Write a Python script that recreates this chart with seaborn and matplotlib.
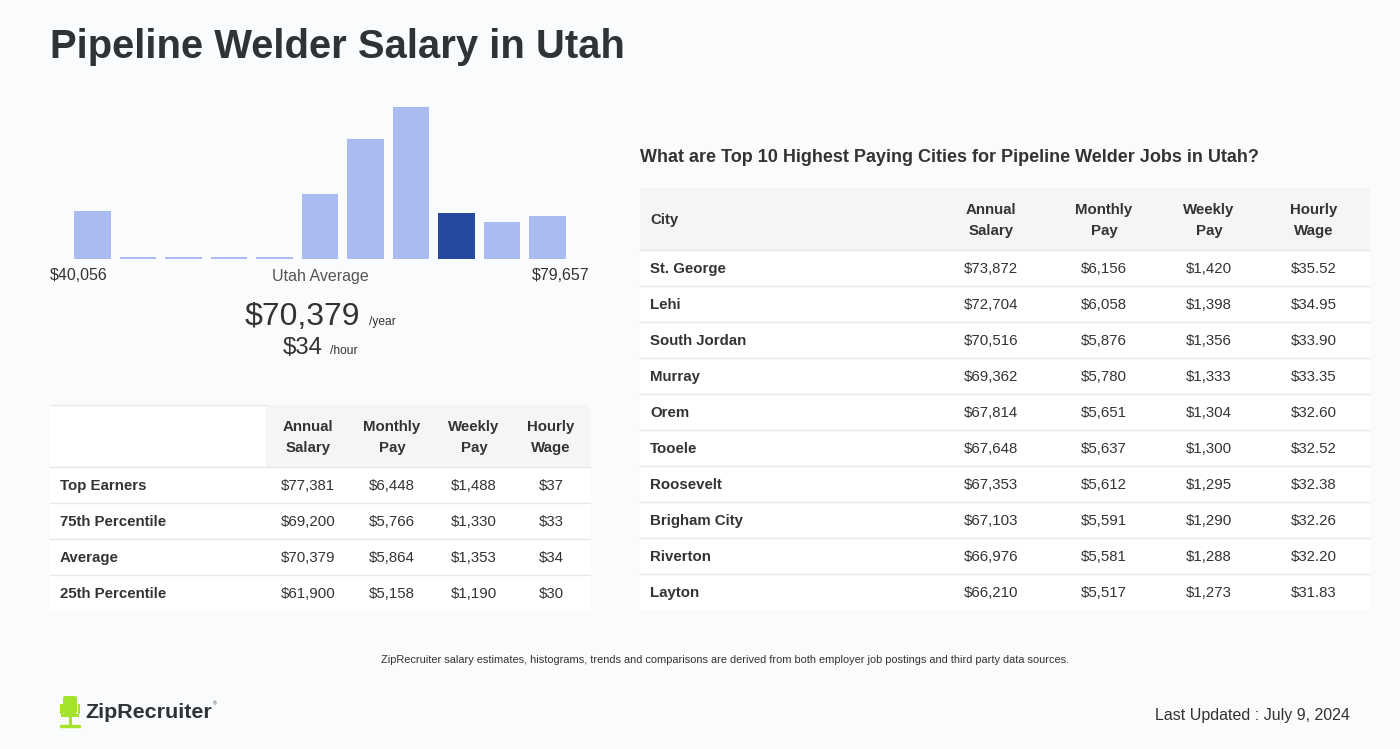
import matplotlib
matplotlib.use("Agg")
import matplotlib.pyplot as plt
from matplotlib.patches import Rectangle, FancyBboxPatch
import seaborn as sns
import pandas as pd

# ---------------- data ----------------
hist_bins = list(range(11))
hist_heights = [48, 2.3, 2.3, 2.3, 2.3, 65, 120, 152, 46, 37, 43]
hist_highlight = 8
hist_min_label = "$40,056"
hist_max_label = "$79,657"
avg_year = "$70,379"
avg_hour = "$34"

pct_rows = ["Top Earners", "75th Percentile", "Average", "25th Percentile"]
pct_annual = ["$77,381", "$69,200", "$70,379", "$61,900"]
pct_monthly = ["$6,448", "$5,766", "$5,864", "$5,158"]
pct_weekly = ["$1,488", "$1,330", "$1,353", "$1,190"]
pct_hourly = ["$37", "$33", "$34", "$30"]

cities = ["St. George", "Lehi", "South Jordan", "Murray", "Orem", "Tooele",
          "Roosevelt", "Brigham City", "Riverton", "Layton"]
city_annual = ["$73,872", "$72,704", "$70,516", "$69,362", "$67,814", "$67,648",
               "$67,353", "$67,103", "$66,976", "$66,210"]
city_monthly = ["$6,156", "$6,058", "$5,876", "$5,780", "$5,651", "$5,637",
                "$5,612", "$5,591", "$5,581", "$5,517"]
city_weekly = ["$1,420", "$1,398", "$1,356", "$1,333", "$1,304", "$1,300",
               "$1,295", "$1,290", "$1,288", "$1,273"]
city_hourly = ["$35.52", "$34.95", "$33.90", "$33.35", "$32.60", "$32.52",
               "$32.38", "$32.26", "$32.20", "$31.83"]

# ---------------- style ----------------
sns.set_theme(style="white")
plt.rcParams["font.family"] = ["Liberation Sans", "DejaVu Sans"]

W, H = 1400, 749
BG = "#F9FBFD"
DARK = "#2D3337"
TXT = "#333333"
LIGHT_BAR = "#A9BBF0"
DARK_BAR = "#264AA0"
HEAD_BG = "#F3F5F7"
LINE = "#E6E8EB"

def pt(px):
    return px * 0.72

fig = plt.figure(figsize=(W / 100, H / 100), dpi=100, facecolor=BG)

# overlay axes in pixel coordinates
ov = fig.add_axes([0, 0, 1, 1])
ov.set_xlim(0, W)
ov.set_ylim(H, 0)
ov.axis("off")
ov.set_facecolor(BG)

# title
ov.text(50, 58.5, "Pipeline Welder Salary in Utah", fontsize=pt(40), fontweight="bold",
        color=DARK, ha="left", va="baseline")

# ---------------- histogram ----------------
ax_l, ax_r, ax_top, ax_bot = 69.75, 570.25, 107, 259
hax = fig.add_axes([ax_l / W, 1 - ax_bot / H, (ax_r - ax_l) / W, (ax_bot - ax_top) / H])
df = pd.DataFrame({"bin": hist_bins, "h": hist_heights})
palette = [DARK_BAR if i == hist_highlight else LIGHT_BAR for i in hist_bins]
sns.barplot(data=df, x="bin", y="h", hue="bin", palette=palette, legend=False,
            width=0.81, ax=hax, saturation=1, edgecolor="none")
hax.set_xlim(-0.5, len(hist_bins) - 0.5)
hax.set_ylim(0, max(hist_heights))
hax.axis("off")

ov.text(50, 276, hist_min_label, fontsize=pt(16), color=TXT, ha="left", va="center")
ov.text(320, 276, "Utah Average", fontsize=pt(16), color="#555555", ha="center", va="center")
ov.text(590, 276, hist_max_label, fontsize=pt(16), color=TXT, ha="right", va="center")

ov.text(360, 325, avg_year, fontsize=pt(32), color=TXT, ha="right", va="baseline")
ov.text(369, 325, "/year", fontsize=pt(12), color=TXT, ha="left", va="baseline")
ov.text(323, 354.5, avg_hour, fontsize=pt(24), color=TXT, ha="right", va="baseline")
ov.text(330, 354, "/hour", fontsize=pt(12), color=TXT, ha="left", va="baseline")

# ---------------- left table ----------------
lt_x0, lt_x1 = 50, 590
lt_head_top, lt_head_bot = 405, 467
row_h = 36
HEAD_LS = 1.7
ov.add_patch(Rectangle((lt_x0, lt_head_top), 266 - lt_x0, lt_head_bot - lt_head_top,
                       facecolor="white", edgecolor="none"))
ov.add_patch(Rectangle((266, lt_head_top), lt_x1 - 266, lt_head_bot - lt_head_top,
                       facecolor=HEAD_BG, edgecolor="none"))
ov.plot([lt_x0, 266], [lt_head_top, lt_head_top], color=LINE, lw=1)
lt_cols = [308, 392, 474, 551]
lt_heads = ["Annual\nSalary", "Monthly\nPay", "Weekly\nPay", "Hourly\nWage"]
for cx, hd in zip(lt_cols, lt_heads):
    ov.text(cx, (lt_head_top + lt_head_bot) / 2 + 1.5, hd, fontsize=pt(15), fontweight="bold",
            color=TXT, ha="center", va="center", linespacing=HEAD_LS)
lt_vals = [pct_annual, pct_monthly, pct_weekly, pct_hourly]
for i, name in enumerate(pct_rows):
    y0 = lt_head_bot + i * row_h
    ov.add_patch(Rectangle((lt_x0, y0), lt_x1 - lt_x0, row_h, facecolor="white", edgecolor="none"))
    ov.plot([lt_x0, lt_x1], [y0, y0], color=LINE, lw=1)
    yc = y0 + row_h / 2 + 1
    ov.text(60, yc, name, fontsize=pt(15), fontweight="bold", color=TXT, ha="left", va="center")
    for cx, col in zip(lt_cols, lt_vals):
        ov.text(cx, yc, col[i], fontsize=pt(15), color=TXT, ha="center", va="center")

# ---------------- right table ----------------
ov.text(640, 157, "What are Top 10 Highest Paying Cities for Pipeline Welder Jobs in Utah?",
        fontsize=pt(18), fontweight="bold", color=TXT, ha="left", va="center")
rt_x0, rt_x1 = 640, 1370
rt_head_top, rt_head_bot = 188, 250
ov.add_patch(Rectangle((rt_x0, rt_head_top), rt_x1 - rt_x0, rt_head_bot - rt_head_top,
                       facecolor=HEAD_BG, edgecolor="none"))
ov.text(650, (rt_head_top + rt_head_bot) / 2 + 1, "City", fontsize=pt(15), fontweight="bold",
        color=TXT, ha="left", va="center")
rt_cols = [991, 1104, 1209, 1314]
for cx, hd in zip(rt_cols, lt_heads):
    ov.text(cx, (rt_head_top + rt_head_bot) / 2 + 1.5, hd, fontsize=pt(15), fontweight="bold",
            color=TXT, ha="center", va="center", linespacing=HEAD_LS)
rt_vals = [city_annual, city_monthly, city_weekly, city_hourly]
for i, name in enumerate(cities):
    y0 = rt_head_bot + i * row_h
    ov.add_patch(Rectangle((rt_x0, y0), rt_x1 - rt_x0, row_h, facecolor="white", edgecolor="none"))
    ov.plot([rt_x0, rt_x1], [y0, y0], color=LINE, lw=1)
    yc = y0 + row_h / 2 + 1
    ov.text(650, yc, name, fontsize=pt(15), fontweight="bold", color=TXT, ha="left", va="center")
    for cx, col in zip(rt_cols, rt_vals):
        ov.text(cx, yc, col[i], fontsize=pt(15), color=TXT, ha="center", va="center")

# ---------------- footer ----------------
ov.text(725, 660, "ZipRecruiter salary estimates, histograms, trends and comparisons are derived "
        "from both employer job postings and third party data sources.",
        fontsize=pt(11), color=TXT, ha="center", va="center")
ov.text(1350, 715.5, "Last Updated : July 9, 2024", fontsize=pt(16), color=TXT,
        ha="right", va="center")

# logo: simple green chair icon + wordmark
GREEN = "#A4E22B"
ov.add_patch(FancyBboxPatch((63, 696), 14, 18, boxstyle="round,pad=0,rounding_size=2",
                            facecolor=GREEN, edgecolor="none"))
ov.add_patch(Rectangle((60, 704), 2.5, 10, facecolor=GREEN, edgecolor="none"))
ov.add_patch(Rectangle((77.5, 704), 2.5, 10, facecolor=GREEN, edgecolor="none"))
ov.add_patch(Rectangle((61, 714), 18, 3, facecolor=GREEN, edgecolor="none"))
ov.add_patch(Rectangle((68.5, 717), 3, 8, facecolor=GREEN, edgecolor="none"))
ov.plot([61, 79], [726, 726], color=GREEN, lw=2.5, solid_capstyle="round")
ov.text(85, 713, "ZipRecruiter", fontsize=pt(21.5), fontweight="bold", color=DARK,
        ha="left", va="center")
ov.text(213, 704, "®", fontsize=pt(5), color=DARK, ha="left", va="center")

fig.savefig("out.png", dpi=100, facecolor=BG)
